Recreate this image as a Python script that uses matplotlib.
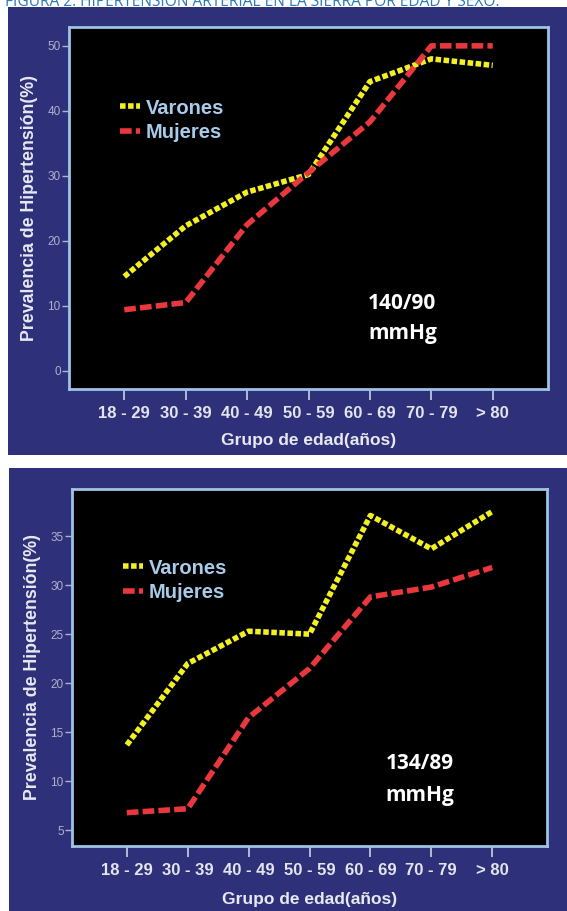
import numpy as np
import matplotlib
matplotlib.use("Agg")
from matplotlib import pyplot as plt
from matplotlib.patches import Rectangle

# data
grupos = ["18 - 29", "30 - 39", "40 - 49", "50 - 59", "60 - 69", "70 - 79", "> 80"]
varones_140 = [14.5, 22.3, 27.5, 30.2, 44.5, 48.0, 47.0]
mujeres_140 = [9.4, 10.5, 22.5, 30.5, 38.3, 50.0, 50.0]
varones_134 = [13.7, 22.0, 25.3, 25.0, 37.1, 33.7, 37.5]
mujeres_134 = [6.8, 7.2, 16.5, 21.5, 28.8, 29.8, 31.8]
criterio = [("140/90", "mmHg"), ("134/89", "mmHg")]
caption = "FIGURA 2: HIPERTENSIÓN ARTERIAL EN LA SIERRA POR EDAD Y SEXO."

BG = "#2e3179"
SPINE = "#9dc3e6"
LEG = "#a9cbea"
YEL = "#f2f020"
RED = "#e8383d"

W, H = 567, 911
fig = plt.figure(figsize=(W/100, H/100), dpi=100)
fig.patch.set_facecolor("white")

# blue panels behind each chart
fig.patches.append(Rectangle((8/W, 1-455/H), 1-8/W, 448/H, transform=fig.transFigure,
                             facecolor=BG, edgecolor="none", zorder=-10))
fig.patches.append(Rectangle((9/W, 0), 1-9/W, 443/H, transform=fig.transFigure,
                             facecolor=BG, edgecolor="none", zorder=-10))

# caption sits partly above the image edge, as in the source
fig.text(5/W, 1-6/H, caption, color="#2a7ab8", fontsize=11.2, family="Open Sans",
         va="baseline", ha="left")

def panel(rect, var, muj, ylim, yticks, crit, txt_xy, leg_xy, xlab_y):
    ax = fig.add_axes(rect)
    ax.set_facecolor("black")
    x = np.arange(len(grupos))
    ax.plot(x, var, color=YEL, lw=4.0, dashes=(1.0, 0.45), solid_capstyle="butt",
            dash_capstyle="butt", label="Varones")
    ax.plot(x, muj, color=RED, lw=4.0, dashes=(2.1, 0.75), solid_capstyle="butt",
            dash_capstyle="butt", label="Mujeres")
    ax.set_xlim(-0.9, 6.9)
    ax.set_ylim(*ylim)
    ax.set_xticks(x)
    ax.set_xticklabels(grupos, fontsize=12, fontweight="bold", color="#e4e4ec",
                       family="Liberation Sans")
    ax.set_yticks(yticks)
    ax.set_yticklabels([str(v) for v in yticks], fontsize=8.5, color="#aeb0cc",
                       family="Liberation Sans")
    ax.tick_params(axis="x", length=8, width=1.2, color="#c8d4e8", pad=4)
    ax.tick_params(axis="y", length=5, width=1.0, color="#aeb0cc", pad=1)
    for s in ax.spines.values():
        s.set_color(SPINE)
        s.set_linewidth(2)
    ax.set_ylabel("Prevalencia de Hipertensión(%)", fontsize=12.8, fontweight="bold",
                  color="#e8e8f0", family="Liberation Sans", labelpad=7)
    ax.set_xlabel("Grupo de edad(años)", fontsize=12.5, fontweight="bold",
                  color="#e8e8f0", family="Liberation Sans")
    leg = ax.legend(loc="center left", bbox_to_anchor=leg_xy, frameon=False,
                    handlelength=1.0, handletextpad=0.3, labelspacing=0.25,
                    borderpad=0, borderaxespad=0,
                    prop={"family": "Liberation Sans", "weight": "bold", "size": 14.5})
    for t in leg.get_texts():
        t.set_color(LEG)
    ax.text(txt_xy[0], txt_xy[1], crit[0], color="white", fontsize=15, fontweight="bold",
            family="Open Sans", ha="left", va="center")
    ax.text(txt_xy[0], txt_xy[2], crit[1], color="white", fontsize=15, fontweight="bold",
            family="Open Sans", ha="left", va="center")
    ax.xaxis.set_label_coords(0.5, xlab_y)
    return ax

panel([69/W, 1-389/H, 479/W, 362/H], varones_140, mujeres_140, (-2.8, 52.9),
      [0, 10, 20, 30, 40, 50], criterio[0], (3.97, 10.4, 5.8), (0.106, 0.743), -0.122)
panel([72/W, 1-846/H, 475/W, 357/H], varones_134, mujeres_134, (3.4, 39.8),
      [5, 10, 15, 20, 25, 30, 35], criterio[1], (4.25, 11.8, 8.6), (0.107, 0.745), -0.128)

fig.savefig("out.png", dpi=100, facecolor=fig.get_facecolor())
